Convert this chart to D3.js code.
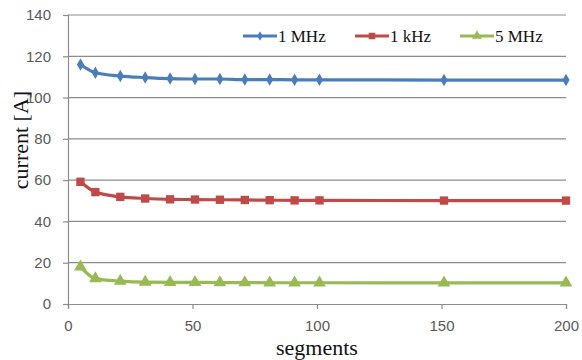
<!DOCTYPE html>
<html>
<head>
<meta charset="utf-8">
<script src="https://cdn.jsdelivr.net/npm/d3@7"></script>
<style>
  body { margin: 0; background: #fff; }
  .tick text { font-family: "Liberation Sans", Arial, sans-serif; font-size: 15px; fill: #595959; }
  .title { font-family: "Liberation Serif", "Times New Roman", serif; fill: #111; }
</style>
</head>
<body>
<div class="chart"></div>
<script>
const width = 582;
const height = 360;
const margin = {top: 15, right: 16, bottom: 56, left: 68};

// segments on x axis
const segments = [5, 11, 21, 31, 41, 51, 61, 71, 81, 91, 101, 151, 200];
// current values [A]
const mhz1 = [116, 112, 110.4, 109.7, 109.2, 109, 109, 108.7, 108.7, 108.6, 108.6, 108.5, 108.5];
const khz1 = [59.2, 54.2, 51.9, 51.1, 50.7, 50.6, 50.5, 50.4, 50.3, 50.2, 50.2, 50.1, 50.1];
const mhz5 = [18, 12.3, 11.1, 10.6, 10.5, 10.5, 10.4, 10.4, 10.3, 10.3, 10.3, 10.2, 10.2];
const seriesNames = ['1 MHz', '1 kHz', '5 MHz'];
const xTicks = [0, 50, 100, 150, 200];
const yTicks = [0, 20, 40, 60, 80, 100, 120, 140];

const colors = ['#4a7ebb', '#be4b48', '#98b954'];
const shapes = [d3.symbolDiamond, d3.symbolSquare, d3.symbolTriangle];
const sizes = [45, 70, 70];

const svg = d3.select('.chart').append('svg')
    .attr('width', width)
    .attr('height', height);

const w = width - margin.left - margin.right;
const h = height - margin.top - margin.bottom;

const x = d3.scaleLinear().domain([0, 200]).range([0, w]);
const y = d3.scaleLinear().domain([0, 140]).range([h, 0]);

const chart = svg.append('g')
    .attr('transform', `translate(${margin.left}, ${margin.top})`);

/* gridlines */
chart.append('g')
    .selectAll('line')
    .data(yTicks.filter(d => d > 0))
    .enter().append('line')
    .attr('x1', 0).attr('x2', w)
    .attr('y1', d => y(d)).attr('y2', d => y(d))
    .attr('stroke', '#8c8c8c').attr('stroke-width', 1.2);

/* axes */
const yAxis = chart.append('g')
    .call(d3.axisLeft(y).tickValues(yTicks).tickSize(5).tickPadding(12));
const xAxis = chart.append('g')
    .attr('transform', `translate(0, ${h})`)
    .call(d3.axisBottom(x).tickValues(xTicks).tickSize(5).tickPadding(11));
[xAxis, yAxis].forEach(a => {
    a.select('.domain').attr('stroke', '#8c8c8c').attr('stroke-width', 1.2);
    a.selectAll('.tick line').attr('stroke', '#8c8c8c').attr('stroke-width', 1.2);
});

/* lines + markers */
const allSeries = [mhz1, khz1, mhz5];
const line = d3.line()
    .x((d, i) => x(segments[i]))
    .y(d => y(d))
    .curve(d3.curveMonotoneX);

allSeries.forEach((vals, k) => {
    chart.append('path')
        .datum(vals)
        .attr('d', line)
        .attr('fill', 'none')
        .attr('stroke', colors[k])
        .attr('stroke-width', 3.2);
    chart.append('g')
        .selectAll('path')
        .data(vals)
        .enter().append('path')
        .attr('transform', (d, i) => `translate(${x(segments[i])}, ${y(d)})`)
        .attr('d', d3.symbol().type(shapes[k]).size(sizes[k]))
        .attr('fill', colors[k]);
});

/* legend */
const legendX = [243, 355, 460];
const legend = svg.append('g').attr('transform', 'translate(0, 36)');
seriesNames.forEach((name, k) => {
    const g = legend.append('g').attr('transform', `translate(${legendX[k]}, 0)`);
    g.append('line').attr('x1', 0).attr('x2', 34).attr('y1', 0).attr('y2', 0)
        .attr('stroke', colors[k]).attr('stroke-width', 3.2);
    g.append('path').attr('transform', 'translate(17, 0)')
        .attr('d', d3.symbol().type(shapes[k]).size(sizes[k] * 0.6))
        .attr('fill', colors[k]);
    g.append('text').attr('class', 'title')
        .attr('x', 35).attr('y', 6)
        .style('font-size', '17px')
        .text(name);
});

/* axis titles */
svg.append('text').attr('class', 'title')
    .attr('x', 317).attr('y', 355)
    .attr('text-anchor', 'middle')
    .style('font-size', '22px')
    .text('segments');
svg.append('text').attr('class', 'title')
    .attr('transform', 'translate(28, 140) rotate(-90)')
    .attr('text-anchor', 'middle')
    .style('font-size', '22px')
    .text('current [A]');
</script>
</body>
</html>
